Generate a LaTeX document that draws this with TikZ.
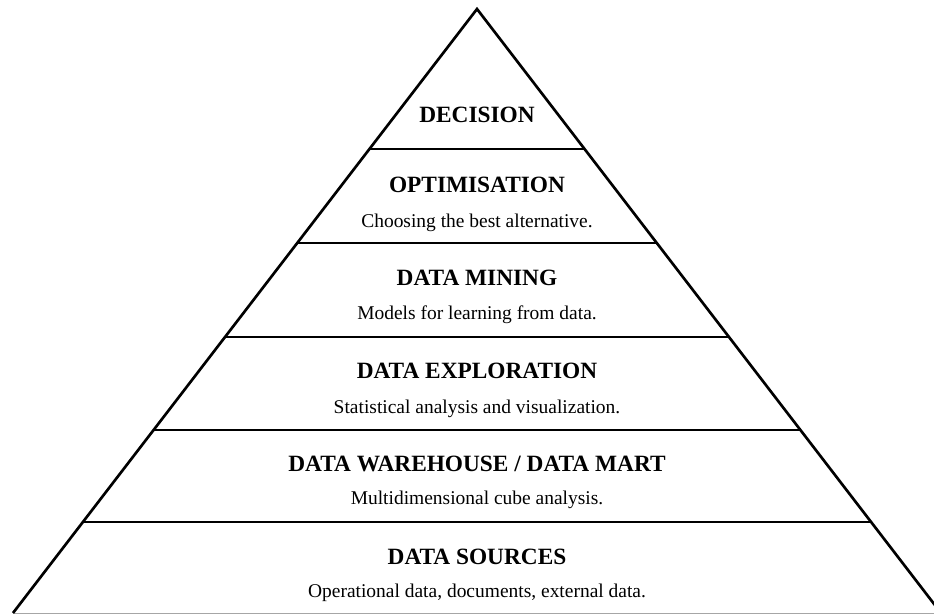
\documentclass[tikz,border=0pt]{standalone}
\usepackage{fontspec}
\setmainfont{Liberation Serif}
\usetikzlibrary{calc}
\tikzset{
  edge/.style={line width=2pt, line join=miter},
  tier/.style={line width=2pt},
  basestyle/.style={line width=0.6pt, draw=black!35},
  ttl/.style={font=\fontsize{17.5}{20}\selectfont\bfseries, inner sep=0pt, anchor=center},
  sub/.style={font=\fontsize{14.6}{17}\selectfont, inner sep=0pt, anchor=center}
}
\begin{document}
\begin{tikzpicture}[x=0.75pt, y=-0.75pt]
\useasboundingbox (0,0) rectangle (934,614);
\clip (0,0) rectangle (934,614);
\coordinate (apex) at (477,9);
\coordinate (bl) at (13,613);
\coordinate (br) at (941,613);
\draw[basestyle] (bl) -- (br);
\draw[edge] (bl) -- (apex) -- (br);
\foreach \t/\n in {0.2318/1, 0.3874/2, 0.5430/3, 0.6970/4, 0.8493/5}{
  \coordinate (l\n) at ($(apex)!\t!(bl)$);
  \coordinate (r\n) at ($(apex)!\t!(br)$);
  \draw[tier] (l\n) -- (r\n);
}
\node[ttl] (t0) at (477,115) {DECISION};
\node[ttl] (t1) at (477,185) {OPTIMISATION};
\node[sub] (s1) at (477,223) {Choosing the best alternative.};
\node[ttl] (t2) at (477,278) {DATA MINING};
\node[sub] (s2) at (477,315) {Models for learning from data.};
\node[ttl] (t3) at (477,371) {DATA EXPLORATION};
\node[sub] (s3) at (477,409) {Statistical analysis and visualization.};
\node[ttl] (t4) at (477,464) {DATA WAREHOUSE / DATA MART};
\node[sub] (s4) at (477,500) {Multidimensional cube analysis.};
\node[ttl] (t5) at (477,557) {DATA SOURCES};
\node[sub] (s5) at (477,593) {Operational data, documents, external data.};
\end{tikzpicture}
\end{document}
